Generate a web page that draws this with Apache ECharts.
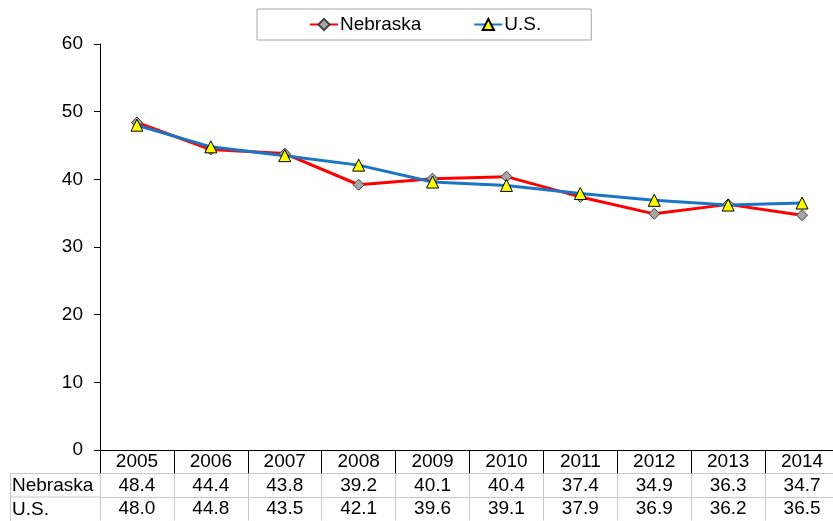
<!DOCTYPE html>
<html>
<head>
<meta charset="utf-8">
<script src="https://cdn.jsdelivr.net/npm/echarts@6/dist/echarts.min.js"></script>
<style>
html,body{margin:0;padding:0;background:#fff;}
#chart{width:833px;height:521px;}
</style>
</head>
<body>
<div id="chart"></div>
<script>
const years = ['2005','2006','2007','2008','2009','2010','2011','2012','2013','2014'];
const nebraska = [48.4, 44.4, 43.8, 39.2, 40.1, 40.4, 37.4, 34.9, 36.3, 34.7];
const us = [48.0, 44.8, 43.5, 42.1, 39.6, 39.1, 37.9, 36.9, 36.2, 36.5];
const seriesNames = ['Nebraska', 'U.S.'];
const yTicks = { min: 0, max: 60, interval: 10 };

const FONT = 'Arial, "Liberation Sans", sans-serif';
const FS = 19;
const ROW = 23.5;
const tableGrey = '#C8C8C8';

const chart = echarts.init(document.getElementById('chart'));

function tableAxis(offset, values, lineColor, tickColor) {
  return {
    type: 'category',
    data: years,
    position: 'bottom',
    offset: offset,
    boundaryGap: true,
    axisLine: { show: true, lineStyle: { color: lineColor, width: 1 } },
    axisTick: { show: true, length: ROW, lineStyle: { color: tickColor, width: 1 } },
    axisLabel: {
      show: true,
      interval: 0,
      margin: 12,
      verticalAlign: 'middle',
      color: '#000',
      fontFamily: FONT,
      fontSize: FS,
      formatter: values ? function (v, i) { return values[i].toFixed(1); } : function (v) { return v; }
    },
    splitLine: { show: false }
  };
}

const option = {
  backgroundColor: '#fff',
  animation: false,
  textStyle: { fontFamily: FONT },
  legend: {
    left: 257,
    top: 9,
    padding: [6, 50, 6, 52],
    itemGap: 52,
    itemWidth: 28,
    itemHeight: 14,
    borderColor: '#A6A6A6',
    borderWidth: 1,
    textStyle: { fontFamily: FONT, fontSize: FS, color: '#000', padding: [0, 0, 0, -3] },
    data: seriesNames
  },
  grid: { left: 100, width: 739, top: 44, height: 406, containLabel: false, outerBoundsMode: 'none' },
  xAxis: [
    tableAxis(0, null, '#000', '#000'),
    tableAxis(ROW, nebraska, tableGrey, tableGrey),
    tableAxis(ROW * 2, us, tableGrey, tableGrey)
  ],
  yAxis: {
    type: 'value',
    min: yTicks.min,
    max: yTicks.max,
    interval: yTicks.interval,
    axisLine: { show: true, lineStyle: { color: '#000', width: 1 } },
    axisTick: { show: true, length: 6, lineStyle: { color: '#000' } },
    axisLabel: { margin: 17, color: '#000', fontFamily: FONT, fontSize: FS },
    splitLine: { show: false }
  },
  graphic: [
    { type: 'line', shape: { x1: 10.5, y1: 473.5, x2: 10.5, y2: 521 }, style: { stroke: tableGrey, lineWidth: 1 } },
    { type: 'line', shape: { x1: 10, y1: 473.5, x2: 100, y2: 473.5 }, style: { stroke: tableGrey, lineWidth: 1 } },
    { type: 'line', shape: { x1: 10, y1: 497, x2: 100, y2: 497 }, style: { stroke: tableGrey, lineWidth: 1 } },
    { type: 'text', x: 12, y: 486, style: { text: seriesNames[0], font: FS + 'px ' + FONT, fill: '#000', textVerticalAlign: 'middle', verticalAlign: 'middle' } },
    { type: 'text', x: 12, y: 509.5, style: { text: seriesNames[1], font: FS + 'px ' + FONT, fill: '#000', textVerticalAlign: 'middle', verticalAlign: 'middle' } }
  ],
  series: [
    {
      name: seriesNames[0],
      type: 'line',
      data: nebraska,
      xAxisIndex: 0,
      symbol: 'diamond',
      symbolSize: 11,
      lineStyle: { color: '#FF0000', width: 3 },
      itemStyle: { color: '#A6A6A6', borderColor: '#404040', borderWidth: 1 }
    },
    {
      name: seriesNames[1],
      type: 'line',
      data: us,
      xAxisIndex: 0,
      symbol: 'triangle',
      symbolSize: 12,
      lineStyle: { color: '#1A75C4', width: 3 },
      itemStyle: { color: '#FFFF00', borderColor: '#000', borderWidth: 1 }
    }
  ]
};
chart.setOption(option);
</script>
</body>
</html>
